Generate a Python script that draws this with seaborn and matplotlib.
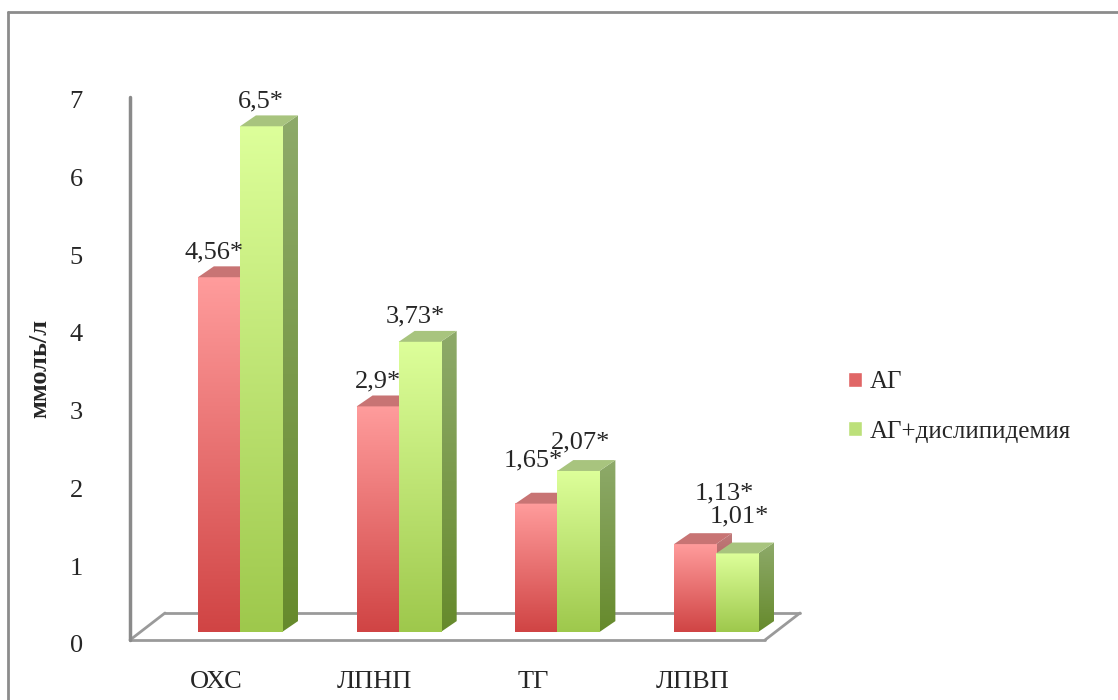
import numpy as np
import pandas as pd
import matplotlib.pyplot as plt
import seaborn as sns
from matplotlib.colors import LinearSegmentedColormap
from matplotlib.patches import Polygon, Patch
from matplotlib.lines import Line2D
from matplotlib.transforms import ScaledTranslation

# data
categories = ['ОХС', 'ЛПНП', 'ТГ', 'ЛПВП']
groups = ['АГ', 'АГ+дислипидемия']
ag_values = [4.56, 2.9, 1.65, 1.13]
ag_dlp_values = [6.5, 3.73, 2.07, 1.01]
ag_labels = ['4,56*', '2,9*', '1,65*', '1,13*']
ag_dlp_labels = ['6,5*', '3,73*', '2,07*', '1,01*']
y_ticks = [0, 1, 2, 3, 4, 5, 6, 7]

df = pd.DataFrame({
    'cat': categories * 2,
    'group': [groups[0]] * 4 + [groups[1]] * 4,
    'value': ag_values + ag_dlp_values,
})
value_labels = [ag_labels, ag_dlp_labels]

sns.set_style('white')
plt.rcParams['font.family'] = ['Liberation Serif', 'DejaVu Serif']
font_size = 19

W, H = 1118, 700
fig = plt.figure(figsize=(W / 100, H / 100), dpi=100)

def px(x, y):
    return (x / W, 1 - y / H)

# axes placed so that the bar fronts sit like the original 3D chart
ax = fig.add_axes([160.7 / W, 68 / H, 634.8 / W, 544.6 / H])
ax.patch.set_alpha(0)

sns.barplot(data=df, x='cat', y='value', hue='group', order=categories, hue_order=groups,
            width=0.53, gap=0, palette=['#E06666', '#BCE07A'], legend=False, ax=ax,
            errorbar=None, saturation=1)

ax.set_xlim(-0.5, 3.5)
ax.set_ylim(0, 7)
for s in ax.spines.values():
    s.set_visible(False)
ax.set_xlabel('')
ax.set_ylabel('')
ax.set_yticks(y_ticks)
ax.tick_params(length=0, labelsize=font_size)
ax.tick_params(axis='y', pad=56)
ax.tick_params(axis='x', pad=28)

# gradients: (top colour, bottom colour)
front_cols = [('#FF9C9C', '#D04444'), ('#DDFF9A', '#9EC84C')]
side_cols = [('#C07A7A', '#9A3A3A'), ('#8EAA6A', '#668A2C')]
top_cols = ['#C87474', '#A8C47E']

dx, dy = 0.1, 0.14   # depth of the bars, data units
grad = np.linspace(0, 1, 256).reshape(-1, 1)

for i, cont in enumerate(ax.containers):
    cm_front = LinearSegmentedColormap.from_list('f', [front_cols[i][1], front_cols[i][0]])
    cm_side = LinearSegmentedColormap.from_list('s', [side_cols[i][1], side_cols[i][0]])
    z = 2 + 3 * i
    for j, bar in enumerate(cont):
        x0, w, h = bar.get_x(), bar.get_width(), bar.get_height()
        bar.set_facecolor('none')
        bar.set_edgecolor('none')
        # right side face
        side = Polygon([(x0 + w, 0), (x0 + w + dx, dy), (x0 + w + dx, h + dy), (x0 + w, h)],
                       closed=True, facecolor='none', edgecolor='none')
        ax.add_patch(side)
        im = ax.imshow(grad, extent=[x0 + w, x0 + w + dx, 0, h + dy], origin='lower',
                       cmap=cm_side, aspect='auto', zorder=z, interpolation='bilinear')
        im.set_clip_path(side)
        # front face
        ax.imshow(grad, extent=[x0, x0 + w, 0, h], origin='lower', cmap=cm_front,
                  aspect='auto', zorder=z + 1, interpolation='bilinear')
        # top face
        ax.add_patch(Polygon([(x0, h), (x0 + dx, h + dy), (x0 + w + dx, h + dy), (x0 + w, h)],
                             closed=True, facecolor=top_cols[i], edgecolor='none', zorder=z + 2))

ax.set_xlim(-0.5, 3.5)
ax.set_ylim(0, 7)

# value labels, with the nudges Excel used to avoid overlaps (pixels)
nudges = [[(-5, 0), (0, 0), (-3, 18), (29, 26)], [(0, 0), (-4, 0), (2, 4), (2, 12)]]
for i, cont in enumerate(ax.containers):
    for j, bar in enumerate(cont):
        xc = bar.get_x() + bar.get_width() / 2
        h = bar.get_height()
        nx, ny = nudges[i][j]
        ax.annotate(value_labels[i][j], xy=(xc, h + dy), xytext=(nx, 14 + ny),
                    textcoords='offset pixels', ha='center', va='center',
                    fontsize=font_size, zorder=20, annotation_clip=False)

# shift tick labels to the front edge of the 3D frame
off_x = ScaledTranslation(-24 / 100, 0, fig.dpi_scale_trans)
off_y = ScaledTranslation(0, -12 / 100, fig.dpi_scale_trans)
for lab in ax.get_xticklabels():
    lab.set_transform(lab.get_transform() + off_x)
for lab in ax.get_yticklabels():
    lab.set_transform(lab.get_transform() + off_y)

# 3D frame: vertical axis line and floor
frame_col = '#9A9A9A'
floor = [((130, 640), (765, 640)), ((130, 640), (165, 613)),
         ((165, 613), (800, 613)), ((800, 613), (765, 640))]
for a, b in floor:
    ax.add_line(Line2D([px(*a)[0], px(*b)[0]], [px(*a)[1], px(*b)[1]], transform=fig.transFigure,
                       color=frame_col, lw=2, clip_on=False, zorder=1))
ax.add_line(Line2D([px(130, 97)[0], px(130, 640)[0]], [px(130, 97)[1], px(130, 640)[1]],
                   transform=fig.transFigure, color='#8A8A8A', lw=2.5, clip_on=False, zorder=1))

# outer border
fig.add_artist(Line2D([px(8, 12)[0], 1], [px(8, 12)[1], px(8, 12)[1]], color='#8C8C8C', lw=2))
fig.add_artist(Line2D([px(8, 12)[0], px(8, 12)[0]], [px(8, 12)[1], 0], color='#8C8C8C', lw=2))

fig.text(*px(40, 368), 'ммоль/л', rotation=90, ha='center', va='center',
         fontsize=19, fontweight='bold')

handles = [Patch(facecolor='#E06666'), Patch(facecolor='#BCE07A')]
fig.legend(handles, groups, loc='center left', bbox_to_anchor=px(848, 407), frameon=False,
           fontsize=18, handlelength=0.55, handleheight=0.55, handletextpad=0.3,
           labelspacing=1.1, borderaxespad=0, borderpad=0)

fig.savefig('out.png', dpi=100, facecolor='white')
